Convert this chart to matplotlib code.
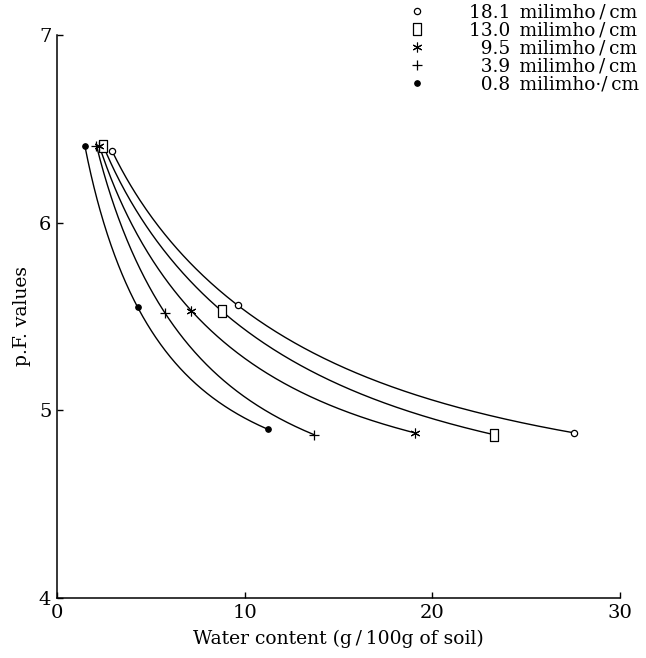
import numpy as np
import matplotlib
matplotlib.use("Agg")
import matplotlib.pyplot as plt
from matplotlib.path import Path

# ---- data ----
series_labels = ["18.1\u2002milimho\u2009/\u2009cm",
                 "13.0\u2002milimho\u2009/\u2009cm",
                 "\u20079.5\u2002milimho\u2009/\u2009cm",
                 "\u20073.9\u2002milimho\u2009/\u2009cm",
                 "\u20070.8\u2002milimho\u00b7/\u2009cm"]

water_181 = [2.95, 9.63, 27.56]
pf_181 = [6.38, 5.56, 4.88]
water_130 = [2.47, 8.77, 23.3]
pf_130 = [6.41, 5.53, 4.87]
water_95 = [2.26, 7.17, 19.07]
pf_95 = [6.41, 5.53, 4.88]
water_39 = [2.11, 5.75, 13.71]
pf_39 = [6.41, 5.52, 4.87]
water_08 = [1.49, 4.30, 11.22]
pf_08 = [6.41, 5.55, 4.90]

x_ticks = [0, 10, 20, 30]
y_ticks = [4, 5, 6, 7]

plt.rcParams['font.family'] = ['DejaVu Serif', 'DejaVu Sans']

rect = Path([(-0.33, -0.5), (0.33, -0.5), (0.33, 0.5), (-0.33, 0.5), (-0.33, -0.5)],
            [Path.MOVETO, Path.LINETO, Path.LINETO, Path.LINETO, Path.CLOSEPOLY])

styles = [
    dict(marker='o', ms=4.5, mfc='white', mec='black', mew=0.9),
    dict(marker=rect, ms=8, mfc='white', mec='black', mew=0.9),
    dict(marker=(6, 2, 0), ms=7, mfc='black', mec='black', mew=0.8),
    dict(marker='+', ms=7, mfc='black', mec='black', mew=0.9),
    dict(marker='o', ms=4, mfc='black', mec='black', mew=0.8),
]
waters = [water_181, water_130, water_95, water_39, water_08]
pfs = [pf_181, pf_130, pf_95, pf_39, pf_08]


def exp_fit(xs, ys, xx):
    x1, x2, x3 = xs
    y1, y2, y3 = ys
    target = (y1 - y2) / (y2 - y3)

    def ratio(k):
        return (np.exp(-k * x1) - np.exp(-k * x2)) / (np.exp(-k * x2) - np.exp(-k * x3))

    lo, hi = 1e-6, 5.0
    for _ in range(200):
        mid = 0.5 * (lo + hi)
        if ratio(mid) < target:
            lo = mid
        else:
            hi = mid
    k = 0.5 * (lo + hi)
    B = (y1 - y2) / (np.exp(-k * x1) - np.exp(-k * x2))
    A = y1 - B * np.exp(-k * x1)
    return A + B * np.exp(-k * xx)


def log_fit(xs, ys, xx):
    coef = np.polyfit(np.log(np.asarray(xs, float)), np.asarray(ys, float), 2)
    return np.polyval(coef, np.log(xx))


def smooth_curve(xs, ys):
    """Smooth curve passing through the three measured points."""
    xx = np.linspace(xs[0], xs[-1], 300)
    return xx, 0.5 * exp_fit(xs, ys, xx) + 0.5 * log_fit(xs, ys, xx)


fig = plt.figure(figsize=(6.46, 6.58), dpi=100)
ax = fig.add_axes([0.088, 0.091, 0.872, 0.856])

handles = []
for xs, ys, st, lab in zip(waters, pfs, styles, series_labels):
    cx, cy = smooth_curve(xs, ys)
    ax.plot(cx, cy, color='black', lw=1.0, zorder=2)
    h, = ax.plot(xs, ys, linestyle='none', zorder=3, label=lab, **st)
    handles.append(h)

ax.set_xlim(0, 30)
ax.set_ylim(4, 7)
ax.set_xticks(x_ticks)
ax.set_yticks(y_ticks)
ax.spines['top'].set_visible(False)
ax.spines['right'].set_visible(False)
for s in ['left', 'bottom']:
    ax.spines[s].set_linewidth(1.1)
ax.tick_params(direction='in', length=4, width=1, labelsize=14, pad=4)

ax.set_xlabel("Water content (g\u2009/\u2009100g of soil)", fontsize=13.5, labelpad=6)
ax.set_ylabel("p.F. values", fontsize=13.5, labelpad=6)

fig.legend(handles=handles, labels=series_labels, loc='upper right',
           bbox_to_anchor=(0.995, 1.0), frameon=False, fontsize=13.3,
           handlelength=1.0, handletextpad=2.3, labelspacing=0.0,
           borderaxespad=0.1, borderpad=0.1)

fig.savefig("out.png", dpi=100, facecolor='white')
